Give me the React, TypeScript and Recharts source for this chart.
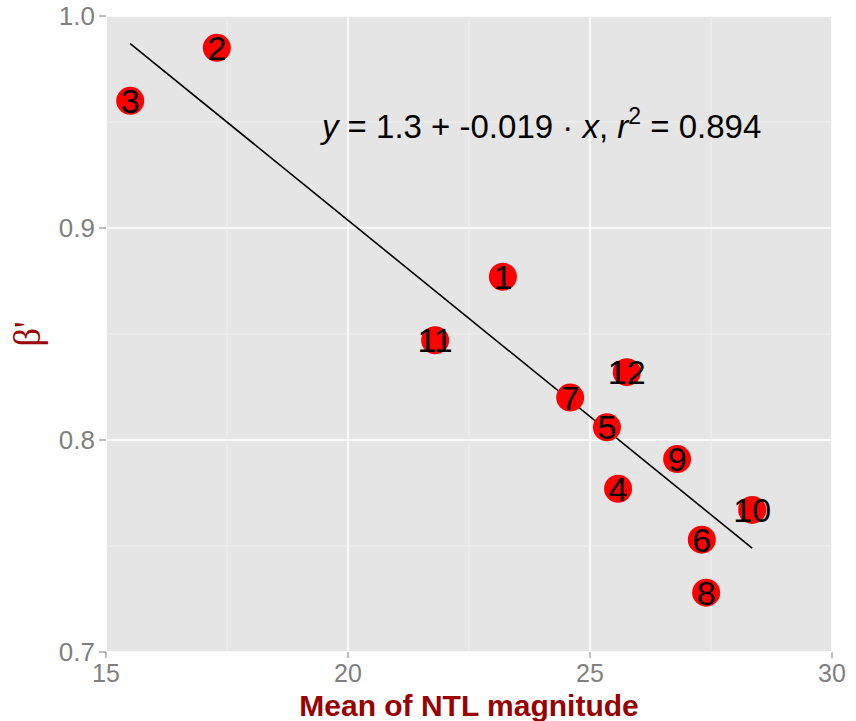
import {
  ScatterChart,
  Scatter,
  XAxis,
  YAxis,
  CartesianGrid,
  ReferenceLine,
  ReferenceDot,
} from "recharts";

const pointIds = ["1", "2", "3", "4", "5", "6", "7", "8", "9", "10", "11", "12"];
const ntlMean = [23.2, 17.29, 15.5, 25.58, 25.35, 27.31, 24.59, 27.4, 26.8, 28.35, 21.8, 25.76];
const betaPrime = [0.877, 0.985, 0.96, 0.777, 0.806, 0.753, 0.82, 0.728, 0.791, 0.767, 0.847, 0.832];

const xTicks = [15, 20, 25, 30];
const yTicks = [0.7, 0.8, 0.9, 1.0];
const xMinor = [17.5, 22.5, 27.5];
const yMinor = [0.75, 0.85, 0.95];

// fitted line, ends
const fitX = [15.5, 28.35];
const fitY = [0.987, 0.749];
const equationAt = { x: 24.0, y: 0.947 };

const points = pointIds.map((id, i) => ({ id, x: ntlMean[i], y: betaPrime[i] }));

const axisGrey = "#7f7f7f";
const titleRed = "#990000";
const sans = "Liberation Sans, Arial, sans-serif";

const PointShape = (props: any) => {
  const { cx, cy, payload } = props;
  return (
    <g>
      <circle cx={cx} cy={cy} r={14} fill="#ff0000" />
      <text
        x={cx}
        y={cy}
        textAnchor="middle"
        dominantBaseline="central"
        fontSize={34}
        fontFamily={sans}
        fill="#000"
      >
        {payload.id}
      </text>
    </g>
  );
};

const Equation = (props: any) => {
  const { viewBox } = props;
  const cx = viewBox.cx ?? viewBox.x;
  const cy = viewBox.cy ?? viewBox.y;
  return (
    <text x={cx} y={cy + 10} textAnchor="middle" fontSize={33} fontFamily={sans} fill="#000">
      <tspan fontStyle="italic">y</tspan>
      <tspan> = 1.3 + -0.019 · </tspan>
      <tspan fontStyle="italic">x</tspan>
      <tspan>,  </tspan>
      <tspan fontStyle="italic">r</tspan>
      <tspan fontSize={23} dy={-14}>2</tspan>
      <tspan dy={14}> = 0.894</tspan>
    </text>
  );
};

const XTitle = (props: any) => {
  const { viewBox } = props;
  return (
    <text
      x={viewBox.x + viewBox.width / 2}
      y={viewBox.y + 64}
      textAnchor="middle"
      fontSize={30}
      fontWeight="bold"
      fontFamily={sans}
      fill={titleRed}
    >
      Mean of NTL magnitude
    </text>
  );
};

const YTitle = (props: any) => {
  const { viewBox } = props;
  const x = viewBox.x + 40;
  const y = viewBox.y + viewBox.height / 2;
  return (
    <text
      x={x}
      y={y}
      transform={`rotate(-90, ${x}, ${y})`}
      textAnchor="middle"
      fontSize={37}
      fontFamily="Liberation Serif, Times New Roman, serif"
      fill={titleRed}
    >
      β'
    </text>
  );
};

export default function App() {
  return (
    <div style={{ position: "absolute", left: 0, top: 0, width: 856, height: 721, background: "#fff" }}>
      <ScatterChart width={856} height={721} margin={{ top: 16, right: 24, bottom: 0, left: 0 }}>
        <CartesianGrid fill="#e5e5e5" stroke="#ffffff" strokeWidth={1.6} />
        {xMinor.map((v) => (
          <ReferenceLine key={`vx${v}`} x={v} stroke="#f2f2f2" strokeWidth={0.8} />
        ))}
        {yMinor.map((v) => (
          <ReferenceLine key={`hy${v}`} y={v} stroke="#f2f2f2" strokeWidth={0.8} />
        ))}
        <XAxis
          type="number"
          dataKey="x"
          domain={[15, 30]}
          ticks={xTicks}
          allowDataOverflow
          axisLine={false}
          tickLine={{ stroke: axisGrey }}
          tickSize={6}
          tickMargin={6}
          height={69}
          tick={{ fill: axisGrey, fontSize: 25, fontFamily: sans }}
          label={(p: any) => <XTitle {...p} />}
        />
        <YAxis
          type="number"
          dataKey="y"
          domain={[0.7, 1.0]}
          ticks={yTicks}
          allowDataOverflow
          axisLine={false}
          tickLine={{ stroke: axisGrey }}
          tickSize={7}
          tickMargin={4}
          width={106}
          tickFormatter={(v: number) => v.toFixed(1)}
          tick={{ fill: axisGrey, fontSize: 26, fontFamily: sans }}
          label={(p: any) => <YTitle {...p} />}
        />
        <ReferenceLine
          segment={[
            { x: fitX[0], y: fitY[0] },
            { x: fitX[1], y: fitY[1] },
          ]}
          stroke="#000"
          strokeWidth={1.6}
        />
        <Scatter data={points} shape={PointShape} isAnimationActive={false} />
        <ReferenceDot
          x={equationAt.x}
          y={equationAt.y}
          r={0}
          fill="none"
          stroke="none"
          label={(p: any) => <Equation {...p} />}
        />
      </ScatterChart>
    </div>
  );
}
